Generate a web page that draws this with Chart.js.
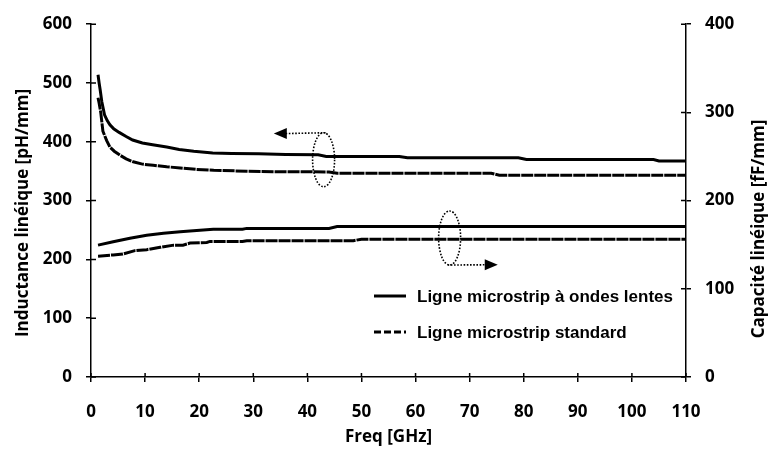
<!DOCTYPE html>
<html>
<head>
<meta charset="utf-8">
<script src="https://cdn.jsdelivr.net/npm/chart.js@4.4.0/dist/chart.umd.min.js"></script>
<style>
  html, body { margin: 0; padding: 0; background: #fff; }
  #wrap { width: 768px; height: 454px; }
</style>
</head>
<body>
<div id="wrap"><canvas id="lcChart" width="768" height="454"></canvas></div>
<script>
// Inductance (left axis, pH/mm)
const indSlowF = [1.3, 1.5, 1.7, 2.0, 2.5, 3.0, 3.5, 4.2, 5.2, 6.5, 7.7, 9.5, 11.4, 14, 16.3, 19, 22.5, 26, 31, 36, 42, 43.5, 57, 58.5, 79, 80.5, 104, 105, 110];
const indSlowV = [514, 500, 488, 468, 446, 436, 429, 422, 416, 409, 403, 398, 395, 391, 387, 384, 381, 380, 379.5, 378.5, 377.8, 375, 375, 372.8, 372.8, 369.9, 369.9, 367.3, 367.3];
const indStdF = [1.3, 1.5, 1.8, 2.2, 2.9, 3.5, 4.3, 5.4, 6.5, 7.8, 9.5, 11.5, 14, 16.5, 19.5, 22.7, 28.8, 35, 44, 45.5, 74, 75.5, 110];
const indStdV = [475, 466, 450, 418, 402, 391, 384, 377, 371, 366, 362, 360, 357.5, 355.6, 353, 351.5, 350, 349, 348.8, 346.5, 346.5, 343.2, 343.2];

// Capacitance (right axis, fF/mm)
const capSlowF = [1.3, 4.1, 7.2, 10.3, 13.4, 16.5, 18.3, 22.6, 28, 28.8, 44, 45.5, 110];
const capSlowV = [149.5, 153.3, 157.4, 160.7, 163, 164.8, 165.6, 167.4, 167.6, 168.5, 168.5, 170.5, 170.5];
const capStdF = [1.3, 4.1, 5.9, 8.1, 10.3, 12.8, 15.3, 17, 18.3, 21.4, 22, 28, 28.8, 48.5, 50, 110];
const capStdV = [137, 138.4, 139.5, 143.3, 144.4, 147, 149.5, 149.5, 151.8, 152.6, 153.7, 153.7, 154.5, 154.5, 156.2, 156.2];

const legendLabels = ['Ligne microstrip à ondes lentes', 'Ligne microstrip standard'];
const xTitle = 'Freq [GHz]';
const yLeftTitle = 'Inductance linéique [pH/mm]';
const yRightTitle = 'Capacité linéique [fF/mm]';

// ellipse markers + arrow tips, in data units
const markers = [
    { x: 43, y: 369.5, axis: 'yL', tipX: 33.8, tipY: 414, side: 'top' },
    { x: 66.3, y: 157.6, axis: 'yR', tipX: 75.2, tipY: 127.2, side: 'bottom' },
];

const toPts = (f, v) => f.map((x, i) => ({ x: x, y: v[i] }));
const SOLID = [];
const STD_DASH = [12, 1];

const decorPlugin = {
    id: 'decor',
    afterDraw(chart) {
        const ctx = chart.ctx;
        const xs = chart.scales.x;
        const area = chart.chartArea;
        ctx.save();

        // inner half of the crossing tick marks
        ctx.strokeStyle = '#000';
        ctx.lineWidth = 1.5;
        ctx.beginPath();
        xs.ticks.forEach(t => {
            const px = xs.getPixelForValue(t.value);
            ctx.moveTo(px, area.bottom);
            ctx.lineTo(px, area.bottom - 4);
        });
        chart.scales.yL.ticks.forEach(t => {
            const py = chart.scales.yL.getPixelForValue(t.value);
            ctx.moveTo(area.left, py);
            ctx.lineTo(area.left + 5, py);
        });
        chart.scales.yR.ticks.forEach(t => {
            const py = chart.scales.yR.getPixelForValue(t.value);
            ctx.moveTo(area.right, py);
            ctx.lineTo(area.right - 5, py);
        });
        ctx.stroke();

        // ellipses with dotted arrows
        markers.forEach(m => {
            const ys = chart.scales[m.axis];
            const cx = xs.getPixelForValue(m.x);
            const cy = ys.getPixelForValue(m.y);
            const tx = xs.getPixelForValue(m.tipX);
            const ty = ys.getPixelForValue(m.tipY);
            const rx = 11, ry = 27;
            ctx.setLineDash([1.6, 1.6]);
            ctx.lineWidth = 1.6;
            ctx.beginPath();
            ctx.ellipse(cx, cy, rx, ry, 0, 0, Math.PI * 2);
            ctx.stroke();
            const dir = tx < cx ? -1 : 1;
            const sy = m.side === 'top' ? cy - ry : cy + ry;
            ctx.beginPath();
            ctx.moveTo(cx - 2 * dir, sy);
            ctx.lineTo(tx - 12 * dir, ty);
            ctx.stroke();
            ctx.setLineDash([]);
            ctx.fillStyle = '#000';
            ctx.beginPath();
            ctx.moveTo(tx, ty);
            ctx.lineTo(tx - 13 * dir, ty - 5.5);
            ctx.lineTo(tx - 13 * dir, ty + 5.5);
            ctx.closePath();
            ctx.fill();
        });

        // legend
        ctx.font = 'bold 17px "Liberation Sans", Arial, sans-serif';
        ctx.textBaseline = 'middle';
        ctx.fillStyle = '#000';
        legendLabels.forEach((lab, i) => {
            const y = 296 + i * 36;
            ctx.lineWidth = 3;
            ctx.setLineDash(i === 0 ? SOLID : [7, 3]);
            ctx.beginPath();
            ctx.moveTo(374, y);
            ctx.lineTo(406, y);
            ctx.stroke();
            ctx.setLineDash([]);
            ctx.fillText(lab, 417, y + 1);
        });

        // axis titles
        ctx.font = 'bold 17px "Open Sans", sans-serif';
        ctx.textAlign = 'center';
        ctx.fillText(xTitle, (area.left + area.right) / 2, 437);
        ctx.translate(23, 213);
        ctx.rotate(-Math.PI / 2);
        ctx.fillText(yLeftTitle, 0, 0);
        ctx.setTransform(1, 0, 0, 1, 0, 0);
        ctx.translate(759, 229);
        ctx.rotate(-Math.PI / 2);
        ctx.fillText(yRightTitle, 0, 0);
        ctx.restore();
    }
};

const tickFont = { family: '"Open Sans", sans-serif', size: 17, weight: 'bold' };
const axisGrid = { drawOnChartArea: false, drawTicks: true, tickLength: 5, color: '#000', lineWidth: 1.5 };
const axisBorder = { display: true, color: '#000', width: 1.5 };

new Chart(document.getElementById('lcChart'), {
    type: 'line',
    data: {
        datasets: [
            { label: legendLabels[0], data: toPts(indSlowF, indSlowV), yAxisID: 'yL', borderDash: SOLID },
            { label: legendLabels[1], data: toPts(indStdF, indStdV), yAxisID: 'yL', borderDash: STD_DASH },
            { label: legendLabels[0], data: toPts(capSlowF, capSlowV), yAxisID: 'yR', borderDash: SOLID },
            { label: legendLabels[1], data: toPts(capStdF, capStdV), yAxisID: 'yR', borderDash: STD_DASH },
        ].map(d => Object.assign({
            borderColor: '#000',
            borderWidth: 3,
            pointRadius: 0,
            fill: false,
            tension: 0,
        }, d))
    },
    options: {
        responsive: false,
        animation: false,
        layout: { padding: { top: 18, left: 0, right: 0, bottom: 0 } },
        plugins: {
            legend: { display: false },
            tooltip: { enabled: false },
        },
        scales: {
            x: {
                type: 'linear',
                min: 0,
                max: 110,
                ticks: { stepSize: 10, color: '#000', font: tickFont, padding: 20, maxRotation: 0 },
                grid: axisGrid,
                border: axisBorder,
                afterFit: s => { s.height = 77; },
            },
            yL: {
                position: 'left',
                min: 0,
                max: 600,
                ticks: { stepSize: 100, color: '#000', font: tickFont, padding: 14 },
                grid: axisGrid,
                border: axisBorder,
                afterFit: s => { s.width = 91; },
            },
            yR: {
                position: 'right',
                min: 0,
                max: 400,
                ticks: { stepSize: 100, color: '#000', font: tickFont, padding: 14 },
                grid: axisGrid,
                border: axisBorder,
                afterFit: s => { s.width = 82; },
            },
        },
    },
    plugins: [decorPlugin],
});
</script>
</body>
</html>
